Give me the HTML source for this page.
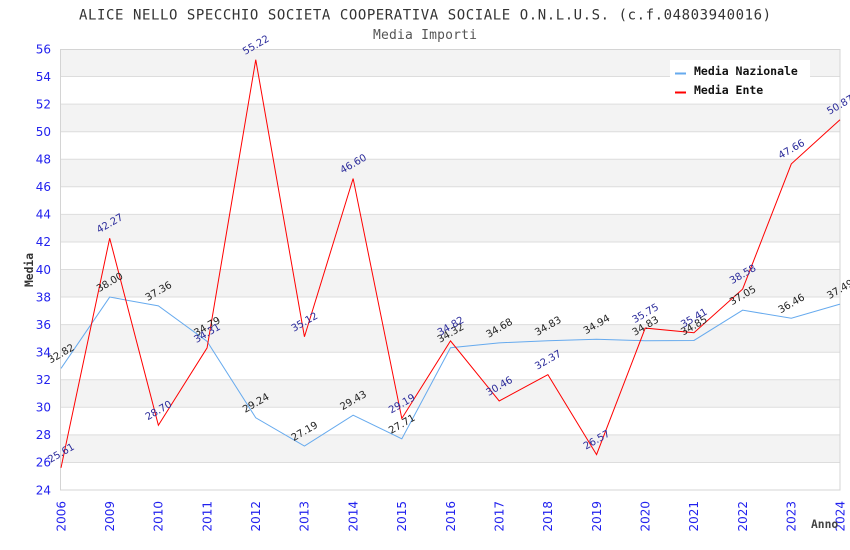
<!DOCTYPE html>
<html><head><meta charset="utf-8"><style>
html,body{margin:0;padding:0;background:#fff;}
svg{display:block;}
</style></head><body>
<svg width="850" height="550" viewBox="0 0 850 550" xmlns="http://www.w3.org/2000/svg">
<rect x="0" y="0" width="850" height="550" fill="#fff"/>
<text x="425" y="19.5" text-anchor="middle" font-family="DejaVu Sans Mono, Liberation Mono, monospace" font-size="14" fill="#333" textLength="692" lengthAdjust="spacing">ALICE NELLO SPECCHIO SOCIETA COOPERATIVA SOCIALE O.N.L.U.S. (c.f.04803940016)</text>
<text x="425" y="39" text-anchor="middle" font-family="DejaVu Sans Mono, Liberation Mono, monospace" font-size="13" fill="#555" textLength="104" lengthAdjust="spacing">Media Importi</text>
<g id="bands" fill="#f3f3f3">
<rect x="61" y="49" width="779" height="27.5625"/>
<rect x="61" y="104.125" width="779" height="27.5625"/>
<rect x="61" y="159.25" width="779" height="27.5625"/>
<rect x="61" y="214.375" width="779" height="27.5625"/>
<rect x="61" y="269.5" width="779" height="27.5625"/>
<rect x="61" y="324.625" width="779" height="27.5625"/>
<rect x="61" y="379.75" width="779" height="27.5625"/>
<rect x="61" y="434.875" width="779" height="27.5625"/>
</g>
<g stroke="#dddddd" stroke-width="1">
<line x1="61" x2="840" y1="76.56" y2="76.56"/>
<line x1="61" x2="840" y1="104.13" y2="104.13"/>
<line x1="61" x2="840" y1="131.69" y2="131.69"/>
<line x1="61" x2="840" y1="159.25" y2="159.25"/>
<line x1="61" x2="840" y1="186.81" y2="186.81"/>
<line x1="61" x2="840" y1="214.38" y2="214.38"/>
<line x1="61" x2="840" y1="241.94" y2="241.94"/>
<line x1="61" x2="840" y1="269.5" y2="269.5"/>
<line x1="61" x2="840" y1="297.06" y2="297.06"/>
<line x1="61" x2="840" y1="324.63" y2="324.63"/>
<line x1="61" x2="840" y1="352.19" y2="352.19"/>
<line x1="61" x2="840" y1="379.75" y2="379.75"/>
<line x1="61" x2="840" y1="407.31" y2="407.31"/>
<line x1="61" x2="840" y1="434.88" y2="434.88"/>
<line x1="61" x2="840" y1="462.44" y2="462.44"/>
</g>
<rect x="60.5" y="49.5" width="779.5" height="440.5" fill="none" stroke="#d4d4d4" stroke-width="1"/>
<g font-family="DejaVu Sans, Liberation Sans, sans-serif" font-size="12" fill="#2222ee" text-anchor="end">
<text x="51" y="53.3">56</text>
<text x="51" y="80.9">54</text>
<text x="51" y="108.4">52</text>
<text x="51" y="136">50</text>
<text x="51" y="163.6">48</text>
<text x="51" y="191.1">46</text>
<text x="51" y="218.7">44</text>
<text x="51" y="246.2">42</text>
<text x="51" y="273.8">40</text>
<text x="51" y="301.4">38</text>
<text x="51" y="328.9">36</text>
<text x="51" y="356.5">34</text>
<text x="51" y="384.1">32</text>
<text x="51" y="411.6">30</text>
<text x="51" y="439.2">28</text>
<text x="51" y="466.7">26</text>
<text x="51" y="494.3">24</text>
</g>
<g font-family="DejaVu Sans, Liberation Sans, sans-serif" font-size="12" fill="#2222ee" text-anchor="end">
<text transform="translate(65.3,501) rotate(-90)">2006</text>
<text transform="translate(114,501) rotate(-90)">2009</text>
<text transform="translate(162.7,501) rotate(-90)">2010</text>
<text transform="translate(211.4,501) rotate(-90)">2011</text>
<text transform="translate(260,501) rotate(-90)">2012</text>
<text transform="translate(308.7,501) rotate(-90)">2013</text>
<text transform="translate(357.4,501) rotate(-90)">2014</text>
<text transform="translate(406.1,501) rotate(-90)">2015</text>
<text transform="translate(454.8,501) rotate(-90)">2016</text>
<text transform="translate(503.5,501) rotate(-90)">2017</text>
<text transform="translate(552.2,501) rotate(-90)">2018</text>
<text transform="translate(600.9,501) rotate(-90)">2019</text>
<text transform="translate(649.5,501) rotate(-90)">2020</text>
<text transform="translate(698.2,501) rotate(-90)">2021</text>
<text transform="translate(746.9,501) rotate(-90)">2022</text>
<text transform="translate(795.6,501) rotate(-90)">2023</text>
<text transform="translate(844.3,501) rotate(-90)">2024</text>
</g>
<text transform="translate(33,270) rotate(-90)" text-anchor="middle" font-family="DejaVu Sans Mono, Liberation Mono, monospace" font-weight="bold" font-size="11.3" fill="#333">Media</text>
<text x="811" y="528" font-family="DejaVu Sans Mono, Liberation Mono, monospace" font-weight="bold" font-size="11.3" fill="#444">Anno</text>
<polyline fill="none" stroke="#66aaee" stroke-width="1" points="61,368.45 109.69,297.06 158.38,305.88 207.06,341.3 255.75,417.79 304.44,446.04 353.13,415.17 401.81,438.87 450.5,347.78 499.19,342.82 547.88,340.75 596.56,339.23 645.25,340.75 693.94,340.47 742.63,310.16 791.31,318.29 840,304.09"/>
<polyline fill="none" stroke="#ff0000" stroke-width="1" points="61,467.81 109.69,238.22 158.38,425.23 207.06,347.92 255.75,59.75 304.44,336.75 353.13,178.54 401.81,418.48 450.5,340.89 499.19,400.97 547.88,374.65 596.56,454.58 645.25,328.07 693.94,332.76 742.63,289.07 791.31,163.94 840,119.7"/>
<g font-family="DejaVu Sans, Liberation Sans, sans-serif" font-size="10" fill="#222" text-anchor="middle">
<text x="61" y="353.45" dy="0.35em" transform="rotate(-30 61 353.45)">32.82</text>
<text x="109.69" y="282.06" dy="0.35em" transform="rotate(-30 109.69 282.06)">38.00</text>
<text x="158.38" y="290.88" dy="0.35em" transform="rotate(-30 158.38 290.88)">37.36</text>
<text x="207.06" y="326.3" dy="0.35em" transform="rotate(-30 207.06 326.3)">34.79</text>
<text x="255.75" y="402.79" dy="0.35em" transform="rotate(-30 255.75 402.79)">29.24</text>
<text x="304.44" y="431.04" dy="0.35em" transform="rotate(-30 304.44 431.04)">27.19</text>
<text x="353.13" y="400.17" dy="0.35em" transform="rotate(-30 353.13 400.17)">29.43</text>
<text x="401.81" y="423.87" dy="0.35em" transform="rotate(-30 401.81 423.87)">27.71</text>
<text x="450.5" y="332.78" dy="0.35em" transform="rotate(-30 450.5 332.78)">34.32</text>
<text x="499.19" y="327.82" dy="0.35em" transform="rotate(-30 499.19 327.82)">34.68</text>
<text x="547.88" y="325.75" dy="0.35em" transform="rotate(-30 547.88 325.75)">34.83</text>
<text x="596.56" y="324.23" dy="0.35em" transform="rotate(-30 596.56 324.23)">34.94</text>
<text x="645.25" y="325.75" dy="0.35em" transform="rotate(-30 645.25 325.75)">34.83</text>
<text x="693.94" y="325.47" dy="0.35em" transform="rotate(-30 693.94 325.47)">34.85</text>
<text x="742.63" y="295.16" dy="0.35em" transform="rotate(-30 742.63 295.16)">37.05</text>
<text x="791.31" y="303.29" dy="0.35em" transform="rotate(-30 791.31 303.29)">36.46</text>
<text x="840" y="289.09" dy="0.35em" transform="rotate(-30 840 289.09)">37.49</text>
</g>
<g font-family="DejaVu Sans, Liberation Sans, sans-serif" font-size="10" fill="#2a2a9a" text-anchor="middle">
<text x="61" y="452.81" dy="0.35em" transform="rotate(-30 61 452.81)">25.61</text>
<text x="109.69" y="223.22" dy="0.35em" transform="rotate(-30 109.69 223.22)">42.27</text>
<text x="158.38" y="410.23" dy="0.35em" transform="rotate(-30 158.38 410.23)">28.70</text>
<text x="207.06" y="332.92" dy="0.35em" transform="rotate(-30 207.06 332.92)">34.31</text>
<text x="255.75" y="44.75" dy="0.35em" transform="rotate(-30 255.75 44.75)">55.22</text>
<text x="304.44" y="321.75" dy="0.35em" transform="rotate(-30 304.44 321.75)">35.12</text>
<text x="353.13" y="163.54" dy="0.35em" transform="rotate(-30 353.13 163.54)">46.60</text>
<text x="401.81" y="403.48" dy="0.35em" transform="rotate(-30 401.81 403.48)">29.19</text>
<text x="450.5" y="325.89" dy="0.35em" transform="rotate(-30 450.5 325.89)">34.82</text>
<text x="499.19" y="385.97" dy="0.35em" transform="rotate(-30 499.19 385.97)">30.46</text>
<text x="547.88" y="359.65" dy="0.35em" transform="rotate(-30 547.88 359.65)">32.37</text>
<text x="596.56" y="439.58" dy="0.35em" transform="rotate(-30 596.56 439.58)">26.57</text>
<text x="645.25" y="313.07" dy="0.35em" transform="rotate(-30 645.25 313.07)">35.75</text>
<text x="693.94" y="317.76" dy="0.35em" transform="rotate(-30 693.94 317.76)">35.41</text>
<text x="742.63" y="274.07" dy="0.35em" transform="rotate(-30 742.63 274.07)">38.58</text>
<text x="791.31" y="148.94" dy="0.35em" transform="rotate(-30 791.31 148.94)">47.66</text>
<text x="840" y="104.7" dy="0.35em" transform="rotate(-30 840 104.7)">50.87</text>
</g>
<rect x="670" y="60" width="140" height="41" fill="#fff"/>
<rect x="675" y="72.5" width="11" height="2" fill="#66aaee"/>
<rect x="675" y="91.5" width="11" height="2" fill="#ff0000"/>
<g font-family="DejaVu Sans Mono, Liberation Mono, monospace" font-weight="bold" font-size="11.5" fill="#111">
<text x="694" y="75">Media Nazionale</text>
<text x="694" y="94">Media Ente</text>
</g>
</svg>
</body></html>
